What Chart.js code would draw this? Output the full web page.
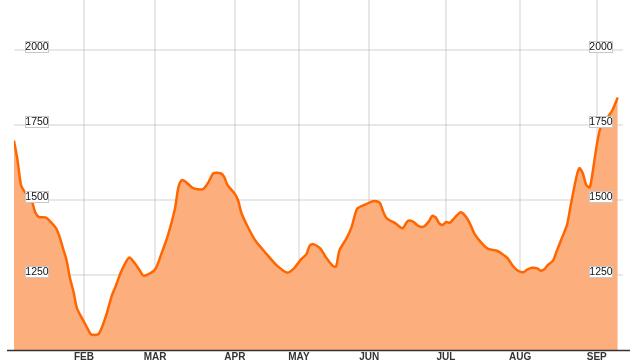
<!DOCTYPE html>
<html>
<head>
<meta charset="utf-8">
<script src="https://cdn.jsdelivr.net/npm/chart.js@4"></script>
<style>
  html, body { margin: 0; padding: 0; background: #fff; }
  #wrap { width: 639px; height: 363px; }
</style>
</head>
<body>
<div id="wrap"><canvas id="price"></canvas></div>
<script>
// trading-day index (0 = start of Jan) and closing value
const days = [0, 1, 2, 3, 5, 6, 7, 9, 10, 12, 13, 14, 15, 16, 17, 18, 20, 21, 22, 24,
  25, 26.5, 28, 29, 30.5, 32, 33, 34.5, 36, 37, 39, 40.5, 42, 44, 46, 47, 48, 49, 51, 52.5,
  54, 55.5, 57, 59, 60, 61, 63, 64, 65, 67, 69, 72, 75, 78, 80, 82, 83.5, 84.5, 85.5, 87.5,
  89, 91, 92, 93, 95, 96.5, 98, 100, 102, 103, 104.5, 105.5, 106.5, 109, 111, 112.5, 114, 115.5, 117, 118.5,
  119.5, 120.5, 121.5, 122.5, 123.5, 124.5, 126, 127.5, 128.5, 130, 131.5, 133.5, 135.5, 138, 139.5, 141, 142.5, 144,
  145.5, 146.5, 148, 149.5, 150.5, 151.5, 152.5, 154, 155, 156.5, 158, 159, 160.5, 161.5, 162.5, 163.5, 164.5, 165.5,
  166.5, 167.5, 168.5, 169.5, 171, 172.5];
const closes = [1698, 1633, 1550, 1528, 1500, 1461, 1444, 1442, 1433, 1406, 1378, 1339, 1300, 1239, 1194, 1139, 1094, 1072, 1052, 1052,
  1072, 1122, 1183, 1211, 1258, 1294, 1308, 1289, 1264, 1248, 1256, 1272, 1317, 1383, 1472, 1544, 1567, 1561, 1541, 1536,
  1536, 1558, 1589, 1589, 1578, 1550, 1522, 1500, 1456, 1406, 1364, 1322, 1283, 1258, 1272, 1302, 1319, 1348, 1353, 1339,
  1311, 1281, 1278, 1333, 1372, 1411, 1470, 1483, 1494, 1497, 1491, 1461, 1439, 1422, 1406, 1430, 1428, 1414, 1411, 1428,
  1447, 1442, 1422, 1417, 1427, 1424, 1442, 1459, 1453, 1428, 1389, 1358, 1337, 1331, 1320, 1306, 1281, 1264,
  1259, 1267, 1274, 1272, 1264, 1269, 1283, 1298, 1328, 1372, 1417, 1478, 1567, 1606, 1589, 1550, 1542, 1606,
  1683, 1739, 1753, 1773, 1800, 1842];
const monthNames = ["FEB", "MAR", "APR", "MAY", "JUN", "JUL", "AUG", "SEP"];
const monthStarts = [20, 40.3, 63.1, 81.4, 101.5, 123.4, 144.6, 166.5];
const yTicks = [1250, 1500, 1750, 2000];

// boxed value labels on both sides + baseline
const labelBoxes = {
  id: "labelBoxes",
  afterDraw(chart) {
    const ctx = chart.ctx;
    const y = chart.scales.y;
    const area = chart.chartArea;
    ctx.save();
    ctx.strokeStyle = "#333";
    ctx.lineWidth = 1.5;
    ctx.beginPath();
    ctx.moveTo(7, area.bottom + 0.5);
    ctx.lineTo(630, area.bottom + 0.5);
    ctx.stroke();

    ctx.font = "10.5px 'Liberation Sans', Arial, sans-serif";
    ctx.textAlign = "center";
    ctx.textBaseline = "middle";
    yTicks.forEach(v => {
      const py = Math.round(y.getPixelForValue(v) - 3);
      [36.5, 601].forEach(cx => {
        const left = Math.round(cx - 12);
        ctx.fillStyle = "#fff";
        ctx.fillRect(left, py - 6, 24, 12);
        ctx.strokeStyle = "#c8c8c8";
        ctx.lineWidth = 1;
        ctx.strokeRect(left + 0.5, py - 5.5, 23, 11);
        ctx.fillStyle = "#111";
        ctx.fillText(String(v), left + 12, py + 0.5);
      });
    });
    ctx.restore();
  }
};

new Chart("price", {
  type: "line",
  data: {
    datasets: [
      {
        data: days.map((d, i) => ({ x: d, y: closes[i] })),
        borderColor: "#ff6600",
        backgroundColor: "#fdae7d",
        borderWidth: 2.5,
        fill: "start",
        pointRadius: 0,
        tension: 0.25,
      },
    ],
  },
  options: {
    responsive: true,
    maintainAspectRatio: false,
    animation: false,
    layout: { padding: { left: 14, right: 16, top: 0, bottom: 0 } },
    plugins: { legend: { display: false }, tooltip: { enabled: false } },
    scales: {
      x: {
        type: "linear",
        min: 0,
        max: 174,
        z: 1,
        afterBuildTicks: (scale) => {
          scale.ticks = monthStarts.map(v => ({ value: v }));
        },
        afterFit: (scale) => { scale.height = 13; },
        ticks: {
          autoSkip: false,
          maxRotation: 0,
          padding: 1,
          color: "#333",
          font: { family: "'Liberation Sans', Arial, sans-serif", size: 10, weight: "bold" },
          callback: (v, i) => monthNames[i],
        },
        grid: { color: "rgba(180,180,180,0.3)", lineWidth: 2, drawTicks: false },
        border: { display: false },
      },
      y: {
        min: 1000,
        max: 2166.7,
        z: 1,
        afterBuildTicks: (scale) => {
          scale.ticks = yTicks.map(v => ({ value: v }));
        },
        afterFit: (scale) => { scale.width = 0; },
        ticks: { display: false },
        grid: { color: "rgba(180,180,180,0.3)", lineWidth: 2, drawTicks: false },
        border: { display: false },
      },
    },
  },
  plugins: [labelBoxes],
});
</script>
</body>
</html>
